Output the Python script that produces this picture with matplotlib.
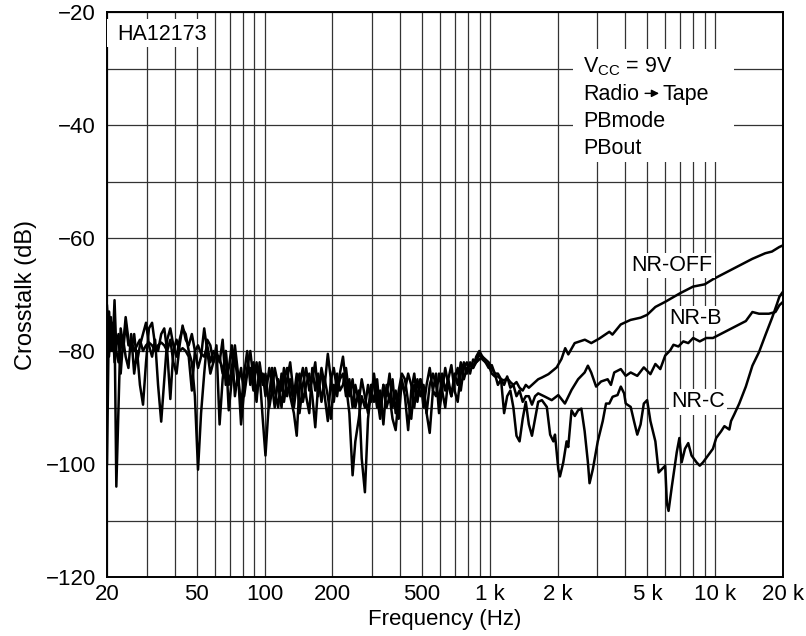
import matplotlib
matplotlib.use("Agg")
import matplotlib.pyplot as plt
from matplotlib.patches import Rectangle

plt.rcParams['font.family'] = ['Liberation Sans', 'DejaVu Sans']
plt.rcParams['font.size'] = 15

# shared frequency grid for the noisy part (20 Hz .. 1.64 kHz)
f_low = [20.0, 20.4, 20.8, 21.2, 21.6, 22.0, 22.5, 23.0, 23.6, 24.2,
         24.9, 25.6, 26.4, 27.2, 28.0, 28.9, 29.8, 30.7, 31.7, 32.7,
         33.7, 34.8, 35.9, 37.0, 38.2, 39.4, 40.7, 42.0, 43.3, 44.7,
         46.1, 47.6, 49.1, 50.7, 52.3, 54.0, 55.7, 57.5, 59.3, 61.2,
         63.2, 65.2, 67.3, 69.4, 71.6, 73.9, 76.3, 78.7, 81.2, 83.8,
         86.5, 89.3, 92.2, 95.1, 98.2, 101, 105, 108, 111, 115,
         119, 122, 126, 130, 135, 139, 143, 148, 153, 158,
         163, 168, 173, 179, 185, 191, 197, 203, 210, 216,
         223, 230, 238, 246, 253, 262, 270, 279, 288, 297,
         306, 316, 326, 337, 348, 359, 370, 382, 394, 407,
         420, 434, 448, 462, 477, 492, 508, 524, 541, 559,
         577, 595, 614, 634, 654, 675, 697, 720, 743, 767,
         791, 817, 843, 870, 898, 927, 957, 988, 1020, 1052,
         1086, 1121, 1157, 1194, 1233, 1272, 1313, 1355, 1399, 1444,
         1490, 1538, 1588, 1639]

off_low = [-72, -78, -74, -80, -75, -104, -90, -76, -79, -74,
           -78, -80, -77, -82, -79, -77, -75, -79, -81, -78,
           -86, -92.5, -85, -78, -76, -79, -81, -78, -76, -77,
           -80, -82, -88, -101, -91, -84, -78, -79, -82, -80,
           -82, -78, -86, -83, -79, -88, -84, -90, -84, -80,
           -86, -82, -88, -84, -92, -98.5, -88, -83, -87, -90,
           -84, -89, -85, -82, -88, -84, -91, -86, -83, -87,
           -85, -82, -88, -83, -86, -80.5, -85, -89, -84, -87,
           -86, -83, -88, -85, -90, -87, -99, -105, -92, -87,
           -89, -85, -91, -86, -88, -84, -90, -87, -92, -85,
           -88, -94, -87, -84, -89, -85, -87, -91, -86, -84,
           -86, -89, -84, -87, -85, -88, -84, -86, -82, -85,
           -83, -82.5, -83, -82, -81.5, -81, -82, -82.5, -84, -84.5,
           -84.5, -85, -85.2, -84.8, -85.5, -86, -85.5, -86.5, -87, -86,
           -86.5, -86, -85.5, -85]

b_low = [-77, -81, -76, -79, -71, -80, -82, -78, -80, -75,
         -79, -78, -80, -79, -78, -80, -79, -78.5, -79, -80,
         -79, -78.5, -79, -80, -88.5, -80, -78, -80, -79.5, -80,
         -81, -87, -80, -79, -80.5, -81, -79, -82, -80, -81,
         -81, -84, -80, -90.5, -85, -81, -86, -83, -88, -84,
         -83, -87, -82, -86, -84, -88, -83, -86, -90, -85,
         -87, -83, -88, -85, -90, -86, -84, -89, -86, -84,
         -88, -93.5, -86, -84, -88, -92.4, -85, -83, -87, -85,
         -84, -88, -85, -90, -86, -89, -85, -88, -91, -86,
         -86, -90, -87, -93, -86, -89, -85, -91, -87, -84,
         -85, -89, -92, -86, -88, -85, -90, -86, -83, -87,
         -84, -91, -87, -83, -86, -88, -85, -83, -87, -83,
         -82, -84, -81.5, -82, -80.5, -81.5, -82, -83, -82.5, -84,
         -84, -85, -86, -84.5, -86.5, -86, -88, -87, -89, -88,
         -88, -89.5, -88, -87.5]

c_low = [-100, -73, -80, -75, -82, -79, -77, -84, -78, -81,
         -83, -77, -84, -80, -86, -89.5, -82, -76, -75, -79,
         -80, -77, -76, -80, -78, -82, -84, -79, -75.5, -78,
         -79, -77, -80, -83, -81, -76, -80, -84, -82, -79,
         -93, -85, -80, -86, -83, -79, -84, -93, -87, -83,
         -80, -85, -89, -82, -86, -84, -90, -87, -83, -86,
         -90, -85, -83, -88, -91, -95, -86, -83, -88, -91,
         -83, -87, -84, -89, -85, -88, -92, -86, -88, -84,
         -81, -86, -91, -102, -96, -92, -88, -90, -86, -89,
         -84, -88, -92, -86, -90, -88, -92, -94, -88, -86,
         -87, -84, -86, -90, -85, -88, -86, -91, -94.5, -87,
         -88, -84, -87, -90, -85, -82.5, -87, -89, -84, -82,
         -84, -82, -83, -81, -80, -81, -81.5, -82, -83, -84,
         -86, -85, -91, -88, -87, -90, -95, -96, -92, -89,
         -93, -95, -92, -89]

# upper band, where the three modes separate
off_hf = [1702, 1820, 1980, 2080, 2160, 2230, 2380, 2640, 2820, 3060,
          3390, 3500, 3810, 4210, 4670, 4990, 5430, 6000, 6970, 7980,
          8990, 9780, 11180, 12770, 14600, 16680, 17860, 19250, 20000]
off_hd = [-84.7, -84.1, -82.9, -81.4, -79.5, -80.6, -78.6, -78.0, -78.6, -77.8,
          -76.6, -77.1, -75.3, -74.5, -74.1, -73.6, -72.2, -71.3, -69.8, -68.6,
          -68.2, -67.3, -66.1, -64.9, -63.7, -62.7, -62.4, -61.6, -61.3]

b_hf = [1760, 1882, 2013, 2154, 2304, 2464, 2635, 2724, 2817, 2963,
        3116, 3333, 3447, 3565, 3813, 4010, 4218, 4511, 4824, 5160,
        5428, 5708, 6002, 6313, 6530, 6868, 7222, 7595, 7988, 8543,
        9137, 9775, 10450, 11180, 11960, 12790, 13680, 14630, 15650, 17310,
        18510, 19270, 20000]
b_hd = [-88.1, -88.7, -87.8, -89.3, -86.9, -85.0, -83.8, -82.6, -83.8, -86.3,
        -85.4, -85.0, -86.0, -83.8, -83.2, -84.4, -83.8, -84.4, -82.9, -84.1,
        -82.3, -83.2, -80.8, -79.9, -78.9, -79.2, -78.3, -78.6, -77.7, -78.3,
        -77.7, -77.7, -77.1, -76.5, -75.9, -75.3, -74.7, -73.1, -73.4, -73.4,
        -73.1, -71.9, -71.3]

c_hf = [1702, 1790, 1852, 1914, 1946, 2013, 2047, 2118, 2191, 2228,
        2304, 2383, 2464, 2548, 2635, 2724, 2770, 2866, 3013, 3170,
        3278, 3390, 3506, 3687, 3813, 3944, 4010, 4218, 4362, 4511,
        4666, 4824, 4990, 5160, 5428, 5614, 6002, 6106, 6210, 6422,
        6754, 6938, 7102, 7345, 7595, 7856, 8263, 8543, 8836, 9293,
        9775, 10105, 10630, 10990, 11560, 11760, 12160, 12790, 13680, 14630,
        15650, 16740, 17900, 18830, 19270, 20000]
c_hd = [-88.7, -89.9, -94.8, -96.0, -94.8, -100.9, -102.2, -99.7, -96.0, -97.0,
        -90.5, -91.5, -90.5, -90.2, -94.2, -99.7, -103.4, -100.9, -96.0, -92.4,
        -89.3, -89.3, -88.1, -87.8, -86.3, -87.5, -89.3, -89.9, -92.4, -94.8,
        -93.0, -89.3, -88.7, -92.4, -96.0, -101.5, -100.3, -107.0, -108.3, -104.0,
        -97.9, -95.4, -99.7, -97.3, -96.3, -98.5, -99.7, -100.3, -99.7, -98.5,
        -97.3, -95.4, -94.2, -93.3, -93.9, -92.4, -91.2, -89.3, -86.3, -82.6,
        -80.2, -77.1, -74.1, -71.6, -70.4, -69.5]

x_ticks = [20, 50, 100, 200, 500, 1000, 2000, 5000, 10000, 20000]
x_labels = ['20', '50', '100', '200', '500', '1 k', '2 k', '5 k', '10 k', '20 k']
x_minor = [30, 40, 60, 70, 80, 90, 300, 400, 600, 700, 800, 900,
           3000, 4000, 6000, 7000, 8000, 9000]
y_ticks = [-120, -100, -80, -60, -40, -20]
y_minor = [-110, -90, -70, -50, -30]

fig = plt.figure(figsize=(8.06, 6.36), dpi=100)
ax = fig.add_axes([107/806, 1 - 577/636, (783 - 107)/806, (577 - 12)/636])

ax.set_xscale('log')
ax.set_xlim(20, 20000)
ax.set_ylim(-120, -20)
ax.set_xticks(x_ticks)
ax.set_xticklabels(x_labels)
ax.set_xticks(x_minor, minor=True)
ax.set_xticklabels([], minor=True)
ax.set_yticks(y_ticks)
ax.set_yticklabels([str(v).replace('-', '\u2212') for v in y_ticks])
ax.set_yticks(y_minor, minor=True)
ax.tick_params(which='both', length=0, labelsize=16)
ax.tick_params(axis='x', pad=5)
ax.tick_params(axis='y', pad=8)
ax.grid(which='both', color='0.2', lw=0.9)
ax.set_axisbelow(True)
for s in ax.spines.values():
    s.set_linewidth(1.4)

for fl, dl, fh, dh in [(f_low, off_low, off_hf, off_hd),
                       (f_low, b_low, b_hf, b_hd),
                       (f_low, c_low, c_hf, c_hd)]:
    ax.plot(list(fl) + fh, list(dl) + dh, color='black', lw=1.8, zorder=3)

ax.set_xlabel('Frequency (Hz)', fontsize=16, labelpad=3)
ax.set_ylabel('Crosstalk (dB)', fontsize=17, labelpad=6)

# white boxes behind the annotations
ax.add_patch(Rectangle((20, -26.2), 37, 4.9, facecolor='white', edgecolor='none', zorder=4))
ax.text(22.3, -24.0, 'HA12173', va='center', ha='left', fontsize=15.5, zorder=5)

ax.add_patch(Rectangle((2340, -46.5), 12100 - 2340, 20, facecolor='white', edgecolor='none', zorder=4))
ax.text(2590, -29.6, r'V$_\mathregular{CC}$ = 9V', va='center', fontsize=15.5, zorder=5)
ax.text(2590, -34.6, 'Radio', va='center', fontsize=15.5, zorder=5)
ax.text(5850, -34.6, 'Tape', va='center', fontsize=15.5, zorder=5)
ax.annotate('', xy=(5800, -34.4), xytext=(4750, -34.4),
            arrowprops=dict(arrowstyle='-|>', color='black', lw=1.0, mutation_scale=11),
            zorder=5)
ax.text(2590, -39.4, 'PBmode', va='center', fontsize=15.5, zorder=5)
ax.text(2590, -44.2, 'PBout', va='center', fontsize=15.5, zorder=5)

box = dict(facecolor='white', edgecolor='none', pad=1.5)
ax.text(6420, -64.9, 'NR-OFF', ha='center', va='center', fontsize=15.5, bbox=box, zorder=5)
ax.text(8180, -74.2, 'NR-B', ha='center', va='center', fontsize=15.5, bbox=box, zorder=5)
ax.text(8400, -89.0, 'NR-C', ha='center', va='center', fontsize=15.5, bbox=box, zorder=5)

fig.savefig('out.png', dpi=100)
